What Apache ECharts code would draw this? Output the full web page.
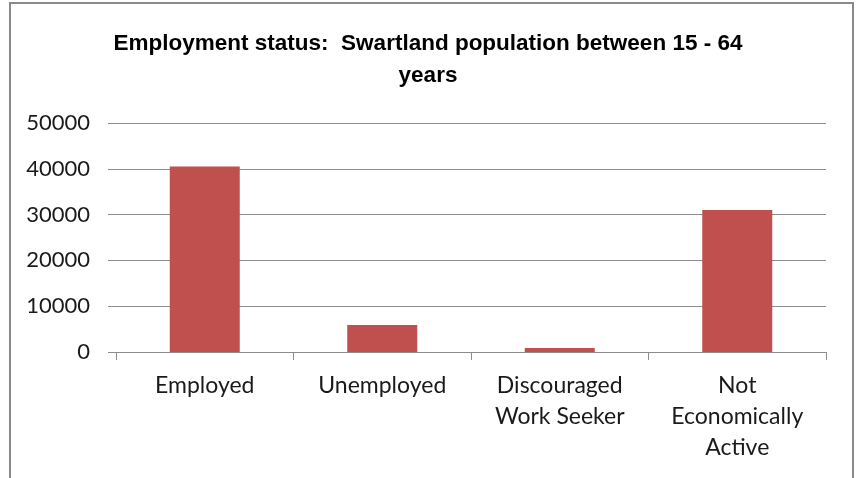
<!DOCTYPE html>
<html>
<head>
<meta charset="utf-8">
<script src="https://cdn.jsdelivr.net/npm/echarts@6/dist/echarts.min.js"></script>
<style>
  html, body { margin: 0; padding: 0; background: #fff; }
  #chart { width: 856px; height: 478px; }
</style>
</head>
<body>
<div id="chart"></div>
<script>
var categories = ['Employed', 'Unemployed', 'Discouraged\nWork Seeker', 'Not\nEconomically\nActive'];
var population = [40500, 5900, 900, 31000];
var yTicks = [0, 10000, 20000, 30000, 40000, 50000];

var chart = echarts.init(document.getElementById('chart'));
chart.setOption({
  animation: false,
  backgroundColor: '#fff',
  title: {
    text: 'Employment status:  Swartland population between 15 - 64\nyears',
    left: 'center',
    top: 23,
    textStyle: {
      fontFamily: 'Liberation Sans, Arial',
      fontWeight: 'bold',
      fontSize: 22.5,
      lineHeight: 32,
      color: '#000'
    }
  },
  graphic: [{
    type: 'rect',
    shape: { x: 10, y: 3, width: 843, height: 490 },
    style: { fill: 'none', stroke: '#8a8a8a', lineWidth: 2 },
    silent: true
  }],
  grid: { left: 116, right: 30, top: 123, bottom: 126 },
  xAxis: {
    type: 'category',
    data: categories,
    axisLine: { lineStyle: { color: '#8c8c8c', width: 1 } },
    axisTick: { show: true, length: 8, lineStyle: { color: '#8c8c8c' } },
    axisLabel: {
      margin: 18,
      interval: 0,
      fontFamily: 'Lato',
      fontSize: 23,
      lineHeight: 31,
      color: '#1a1a1a'
    }
  },
  yAxis: {
    type: 'value',
    min: yTicks[0],
    max: yTicks[yTicks.length - 1],
    interval: 10000,
    axisLine: { show: false },
    axisTick: { show: true, length: 8, lineStyle: { color: '#8c8c8c' } },
    splitLine: { lineStyle: { color: '#8c8c8c', width: 1 } },
    axisLabel: {
      margin: 26,
      fontFamily: 'Lato',
      fontSize: 22,
      color: '#1a1a1a',
      formatter: function (v) { return String(v); }
    }
  },
  series: [{
    type: 'bar',
    data: population,
    barWidth: 70,
    itemStyle: { color: '#C0504D' }
  }]
});
</script>
</body>
</html>
